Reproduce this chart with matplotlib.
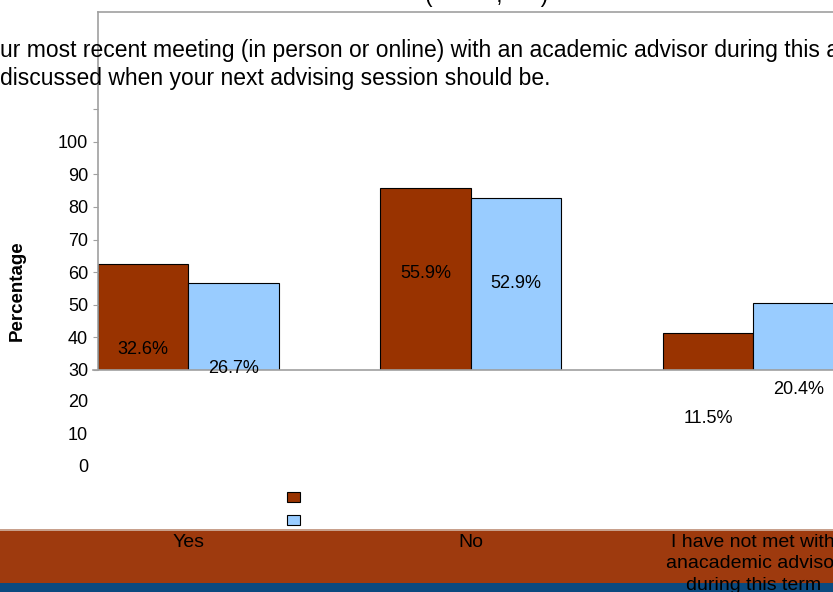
import matplotlib.pyplot as plt
import matplotlib.transforms as mtransforms
from matplotlib.patches import Rectangle

plt.rcParams['font.family'] = ['Liberation Sans', 'DejaVu Sans']

categories = ['Yes', 'No', 'I have not met with\nanacademic advisor\nduring this term']
series_a = [32.6, 55.9, 11.5]
series_b = [26.7, 52.9, 20.4]
tick_vals = [0, 10, 20, 30, 40, 50, 60, 70, 80]
tick_labels = ['30', '40', '50', '60', '70', '80', '90', '100', '']
below_vals = [-30, -20, -10]
below_labels = ['0', '10', '20']
title_lines = ['ur most recent meeting (in person or online) with an academic advisor during this a',
               'discussed when your next advising session should be.']

brown = '#993300'
blue = '#99ccff'
W, H = 833, 592

fig = plt.figure(figsize=(W / 100, H / 100), dpi=100)
ax = fig.add_axes([98 / W, (H - 370) / H, (W - 98) / W, (370 - 12) / H])

x = list(range(len(categories)))
bw = 0.32
b1 = ax.bar([i - bw / 2 for i in x], series_a, bw, color=brown, edgecolor='black', linewidth=0.8)
b2 = ax.bar([i + bw / 2 for i in x], series_b, bw, color=blue, edgecolor='black', linewidth=0.8)
for bars, vals in ((b1, series_a), (b2, series_b)):
    for r, v in zip(bars, vals):
        ax.text(r.get_x() + r.get_width() / 2, v - 26.3, f'{v:.1f}%', ha='center', va='center',
                fontsize=13, clip_on=False)

ax.set_xlim(-0.32, 2.283)
ax.set_ylim(0, 109.8)
ax.set_xticks([])
ax.set_yticks(tick_vals)
ax.set_yticklabels(tick_labels, fontsize=13)
ax.tick_params(axis='y', length=3.6, width=0.8, color='#a0a0a0', pad=3.6)
for s in ('left', 'top', 'bottom'):
    ax.spines[s].set_color('#a0a0a0')
    ax.spines[s].set_linewidth(1.2)
ax.spines['right'].set_visible(False)
ax.spines['bottom'].set_visible(False)
ax.plot([-5 / 735, 1], [0, 0], transform=ax.transAxes, color='#a0a0a0', lw=1.2, clip_on=False)

ytr = ax.get_yaxis_transform()
for v, l in zip(below_vals, below_labels):
    ax.text(-10 / 735, v, l, transform=ytr, ha='right', va='center', fontsize=13, clip_on=False)

fig.text(17 / W, 1 - 291 / H, 'Percentage', rotation=90, fontweight='bold', fontsize=13.5,
         ha='center', va='center')

fig.text(0, 1 - 64.5 / H, '\n'.join(title_lines), ha='left', va='center', fontsize=16.5,
         linespacing=1.32)
fig.text(425 / W, 1 - 2 / H, '(' + ' ' * 10 + ',' + ' ' * 6 + ')', ha='left', va='baseline',
         fontsize=16.5)

fig.legend([b1, b2], ['', ''], loc='upper left', bbox_to_anchor=(287 / W, 1 - 491 / H),
           frameon=False, borderpad=0, handlelength=0.85, handleheight=0.65,
           handletextpad=0, labelspacing=0.6, fontsize=11, borderaxespad=0)

fig.add_artist(Rectangle((0, 9 / H), 1, 53 / H, transform=fig.transFigure,
                         facecolor='#9e3a0e', edgecolor='none', zorder=0))
fig.add_artist(Rectangle((0, 0), 1, 9 / H, transform=fig.transFigure,
                         facecolor='#0a4a80', edgecolor='none', zorder=0))
fig.add_artist(Rectangle((0, 61.5 / H), 1, 1.5 / H, transform=fig.transFigure,
                         facecolor='#c8a08c', edgecolor='none', zorder=0))

ctr = mtransforms.blended_transform_factory(ax.transData, fig.transFigure)
for i, c in zip(x, categories):
    fig.text(i, 1 - 534 / H, c, transform=ctr, ha='center', va='top', fontsize=14,
             linespacing=1.34)

fig.savefig('out.png', dpi=100)
